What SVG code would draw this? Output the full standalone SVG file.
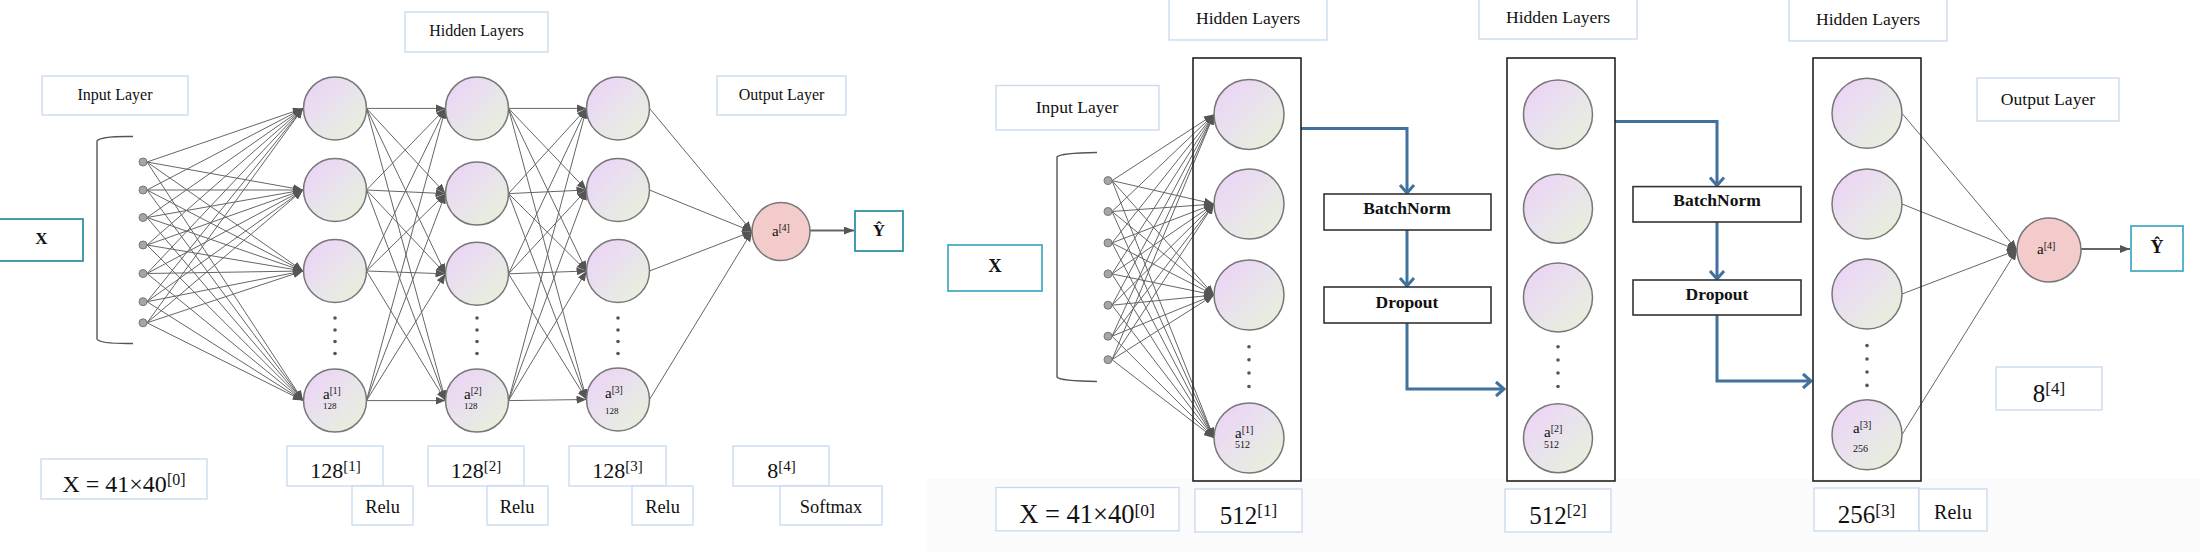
<svg xmlns="http://www.w3.org/2000/svg" width="2200" height="552" viewBox="0 0 2200 552">
<defs>
<linearGradient id="ng" x1="0" y1="0" x2="1" y2="1">
<stop offset="0" stop-color="#ecd0f8"/>
<stop offset="0.5" stop-color="#e9e3ec"/>
<stop offset="1" stop-color="#e6f3d6"/>
</linearGradient>
<marker id="ah" markerUnits="userSpaceOnUse" markerWidth="10" markerHeight="8" refX="10" refY="4" orient="auto">
<path d="M0,0 L10,4 L0,8 z" fill="#555"/>
</marker>
<marker id="bh" markerUnits="userSpaceOnUse" markerWidth="14" markerHeight="18" refX="10" refY="9" orient="auto">
<path d="M2,2 L10,9 L2,16" fill="none" stroke="#41719c" stroke-width="3"/>
</marker>
<style>
text{font-family:"Liberation Serif","Times New Roman",serif;fill:#111}
.lb{fill:#fff;stroke:#c6d9f1;stroke-width:1.3}
.tb{fill:#fff;stroke:#2f93a3;stroke-width:1.8}
.tb2{fill:#fff;stroke:#4bacc6;stroke-width:1.8}
.nd{fill:url(#ng);stroke:#777;stroke-width:1.5}
.on{fill:#f4cbcb;stroke:#777;stroke-width:1.5}
.in{fill:#a6a6a6;stroke:#777;stroke-width:1}
.e{stroke:#666;stroke-width:1;fill:none;marker-end:url(#ah)}
.ba{stroke:#41719c;stroke-width:3;fill:none;marker-end:url(#bh)}
.ct{fill:none;stroke:#222;stroke-width:1.6}
.bx{fill:#fff;stroke:#333;stroke-width:1.6}
.br{fill:none;stroke:#555;stroke-width:1.4}
.dt{fill:#555}
.t16{font-size:16px}
.t18{font-size:17.6px}
.bold{font-weight:bold}
</style>
</defs>
<rect x="0" y="0" width="2200" height="552" fill="#fff"/>
<rect x="927" y="479" width="1273" height="73" fill="#fbfbfb"/>

<g id="connectors">
<!-- left: input -> H1 -->
<line class="e" x1="147" y1="162" x2="303" y2="108.4"/><line class="e" x1="147" y1="162" x2="303" y2="190"/><line class="e" x1="147" y1="162" x2="303" y2="271"/><line class="e" x1="147" y1="162" x2="303" y2="400.6"/>
<line class="e" x1="147" y1="190" x2="303" y2="108.4"/><line class="e" x1="147" y1="190" x2="303" y2="190"/><line class="e" x1="147" y1="190" x2="303" y2="271"/><line class="e" x1="147" y1="190" x2="303" y2="400.6"/>
<line class="e" x1="147" y1="217.5" x2="303" y2="108.4"/><line class="e" x1="147" y1="217.5" x2="303" y2="190"/><line class="e" x1="147" y1="217.5" x2="303" y2="271"/><line class="e" x1="147" y1="217.5" x2="303" y2="400.6"/>
<line class="e" x1="147" y1="245" x2="303" y2="108.4"/><line class="e" x1="147" y1="245" x2="303" y2="190"/><line class="e" x1="147" y1="245" x2="303" y2="271"/><line class="e" x1="147" y1="245" x2="303" y2="400.6"/>
<line class="e" x1="147" y1="273.5" x2="303" y2="108.4"/><line class="e" x1="147" y1="273.5" x2="303" y2="190"/><line class="e" x1="147" y1="273.5" x2="303" y2="271"/><line class="e" x1="147" y1="273.5" x2="303" y2="400.6"/>
<line class="e" x1="147" y1="301.7" x2="303" y2="108.4"/><line class="e" x1="147" y1="301.7" x2="303" y2="190"/><line class="e" x1="147" y1="301.7" x2="303" y2="271"/><line class="e" x1="147" y1="301.7" x2="303" y2="400.6"/>
<line class="e" x1="147" y1="322.8" x2="303" y2="108.4"/><line class="e" x1="147" y1="322.8" x2="303" y2="190"/><line class="e" x1="147" y1="322.8" x2="303" y2="271"/><line class="e" x1="147" y1="322.8" x2="303" y2="400.6"/>
<!-- left: H1 -> H2 -->
<line class="e" x1="366.5" y1="108.4" x2="445.5" y2="108.4"/><line class="e" x1="366.5" y1="108.4" x2="445.5" y2="193.6"/><line class="e" x1="366.5" y1="108.4" x2="445.5" y2="273.8"/><line class="e" x1="366.5" y1="108.4" x2="445.5" y2="400.6"/>
<line class="e" x1="366.5" y1="190" x2="445.5" y2="108.4"/><line class="e" x1="366.5" y1="190" x2="445.5" y2="193.6"/><line class="e" x1="366.5" y1="190" x2="445.5" y2="273.8"/><line class="e" x1="366.5" y1="190" x2="445.5" y2="400.6"/>
<line class="e" x1="366.5" y1="271" x2="445.5" y2="108.4"/><line class="e" x1="366.5" y1="271" x2="445.5" y2="193.6"/><line class="e" x1="366.5" y1="271" x2="445.5" y2="273.8"/><line class="e" x1="366.5" y1="271" x2="445.5" y2="400.6"/>
<line class="e" x1="366.5" y1="400.6" x2="445.5" y2="108.4"/><line class="e" x1="366.5" y1="400.6" x2="445.5" y2="193.6"/><line class="e" x1="366.5" y1="400.6" x2="445.5" y2="273.8"/><line class="e" x1="366.5" y1="400.6" x2="445.5" y2="400.6"/>
<!-- left: H2 -> H3 -->
<line class="e" x1="508.5" y1="108.4" x2="586.5" y2="108.4"/><line class="e" x1="508.5" y1="108.4" x2="586.5" y2="190"/><line class="e" x1="508.5" y1="108.4" x2="586.5" y2="271"/><line class="e" x1="508.5" y1="108.4" x2="586.5" y2="399.5"/>
<line class="e" x1="508.5" y1="193.6" x2="586.5" y2="108.4"/><line class="e" x1="508.5" y1="193.6" x2="586.5" y2="190"/><line class="e" x1="508.5" y1="193.6" x2="586.5" y2="271"/><line class="e" x1="508.5" y1="193.6" x2="586.5" y2="399.5"/>
<line class="e" x1="508.5" y1="273.8" x2="586.5" y2="108.4"/><line class="e" x1="508.5" y1="273.8" x2="586.5" y2="190"/><line class="e" x1="508.5" y1="273.8" x2="586.5" y2="271"/><line class="e" x1="508.5" y1="273.8" x2="586.5" y2="399.5"/>
<line class="e" x1="508.5" y1="400.6" x2="586.5" y2="108.4"/><line class="e" x1="508.5" y1="400.6" x2="586.5" y2="190"/><line class="e" x1="508.5" y1="400.6" x2="586.5" y2="271"/><line class="e" x1="508.5" y1="400.6" x2="586.5" y2="399.5"/>
<!-- left: H3 -> output -->
<line class="e" x1="649.5" y1="108.4" x2="752" y2="231.5"/><line class="e" x1="649.5" y1="190" x2="752" y2="231.5"/><line class="e" x1="649.5" y1="271" x2="752" y2="231.5"/><line class="e" x1="649.5" y1="399.5" x2="752" y2="231.5"/>
<line class="e" x1="810" y1="230.5" x2="854" y2="230.5" style="stroke-width:2"/>
<!-- right: input -> L1 -->
<line class="e" x1="1112" y1="180.6" x2="1214" y2="114.4"/><line class="e" x1="1112" y1="180.6" x2="1214" y2="204"/><line class="e" x1="1112" y1="180.6" x2="1214" y2="295"/><line class="e" x1="1112" y1="180.6" x2="1214" y2="438"/>
<line class="e" x1="1112" y1="211.5" x2="1214" y2="114.4"/><line class="e" x1="1112" y1="211.5" x2="1214" y2="204"/><line class="e" x1="1112" y1="211.5" x2="1214" y2="295"/><line class="e" x1="1112" y1="211.5" x2="1214" y2="438"/>
<line class="e" x1="1112" y1="242.9" x2="1214" y2="114.4"/><line class="e" x1="1112" y1="242.9" x2="1214" y2="204"/><line class="e" x1="1112" y1="242.9" x2="1214" y2="295"/><line class="e" x1="1112" y1="242.9" x2="1214" y2="438"/>
<line class="e" x1="1112" y1="273.9" x2="1214" y2="114.4"/><line class="e" x1="1112" y1="273.9" x2="1214" y2="204"/><line class="e" x1="1112" y1="273.9" x2="1214" y2="295"/><line class="e" x1="1112" y1="273.9" x2="1214" y2="438"/>
<line class="e" x1="1112" y1="305.2" x2="1214" y2="114.4"/><line class="e" x1="1112" y1="305.2" x2="1214" y2="204"/><line class="e" x1="1112" y1="305.2" x2="1214" y2="295"/><line class="e" x1="1112" y1="305.2" x2="1214" y2="438"/>
<line class="e" x1="1112" y1="336.2" x2="1214" y2="114.4"/><line class="e" x1="1112" y1="336.2" x2="1214" y2="204"/><line class="e" x1="1112" y1="336.2" x2="1214" y2="295"/><line class="e" x1="1112" y1="336.2" x2="1214" y2="438"/>
<line class="e" x1="1112" y1="359.7" x2="1214" y2="114.4"/><line class="e" x1="1112" y1="359.7" x2="1214" y2="204"/><line class="e" x1="1112" y1="359.7" x2="1214" y2="295"/><line class="e" x1="1112" y1="359.7" x2="1214" y2="438"/>
<!-- right: L3 -> output -->
<line class="e" x1="1902" y1="113.3" x2="2017" y2="250"/><line class="e" x1="1902" y1="204" x2="2017" y2="250"/><line class="e" x1="1902" y1="294" x2="2017" y2="250"/><line class="e" x1="1902" y1="434.7" x2="2017" y2="250"/>
<line class="e" x1="2081" y1="249" x2="2130" y2="249" style="stroke-width:2"/>
<!-- blue flow arrows -->
<path class="ba" d="M1301,128.5 H1407 V193"/>
<path class="ba" d="M1407,230 V286"/>
<path class="ba" d="M1407,323 V389 H1504"/>
<path class="ba" d="M1615,121.4 H1717 V185.5"/>
<path class="ba" d="M1717,222 V279"/>
<path class="ba" d="M1717,315 V381 H1811"/>
</g>

<!-- ===== LEFT PANEL ===== -->
<g id="left-hidden-label"><rect class="lb" x="405" y="12" width="143" height="40"/><text class="t16" x="476.5" y="36" text-anchor="middle">Hidden Layers</text></g>
<g id="left-input-label"><rect class="lb" x="42" y="76" width="146" height="39"/><text class="t16" x="115" y="100" text-anchor="middle">Input Layer</text></g>
<g id="left-output-label"><rect class="lb" x="717" y="76" width="129" height="39"/><text class="t16" x="781.5" y="100" text-anchor="middle">Output Layer</text></g>
<g id="left-x"><rect class="tb" x="-2" y="219" width="85" height="42"/><text class="bold" font-size="17" x="41.5" y="244" text-anchor="middle">X</text></g>
<g id="left-yhat"><rect class="tb" x="855" y="211" width="48" height="40"/><text class="bold" font-size="17" x="879" y="236" text-anchor="middle">Ŷ</text></g>
<g id="left-input-layer">
<path class="br" d="M133,136.5 Q100,136 97,141 L97,339 Q100,344 133,343.5"/>
<circle class="in" cx="143" cy="162" r="4"/><circle class="in" cx="143" cy="190" r="4"/><circle class="in" cx="143" cy="217.5" r="4"/><circle class="in" cx="143" cy="245" r="4"/><circle class="in" cx="143" cy="273.5" r="4"/><circle class="in" cx="143" cy="301.7" r="4"/><circle class="in" cx="143" cy="322.8" r="4"/>
</g>
<g id="left-h1">
<circle class="nd" cx="335" cy="108.4" r="31.5"/><circle class="nd" cx="335" cy="190" r="31.5"/><circle class="nd" cx="335" cy="271" r="31.5"/><circle class="nd" cx="335" cy="400.6" r="31.5"/>
<circle class="dt" cx="335" cy="318" r="1.8"/><circle class="dt" cx="335" cy="330" r="1.8"/><circle class="dt" cx="335" cy="341.5" r="1.8"/><circle class="dt" cx="335" cy="353.5" r="1.8"/>
<text font-size="15" x="323" y="399">a<tspan font-size="9.5" dy="-5">[1]</tspan></text><text font-size="9" x="323" y="408.5">128</text>
</g>
<g id="left-h2">
<circle class="nd" cx="477" cy="108.4" r="31.5"/><circle class="nd" cx="477" cy="193.6" r="31.5"/><circle class="nd" cx="477" cy="273.8" r="31.5"/><circle class="nd" cx="477" cy="400.6" r="31.5"/>
<circle class="dt" cx="477" cy="318" r="1.8"/><circle class="dt" cx="477" cy="330" r="1.8"/><circle class="dt" cx="477" cy="341.5" r="1.8"/><circle class="dt" cx="477" cy="353.5" r="1.8"/>
<text font-size="15" x="464" y="398.5">a<tspan font-size="9.5" dy="-5">[2]</tspan></text><text font-size="9" x="464" y="409">128</text>
</g>
<g id="left-h3">
<circle class="nd" cx="618" cy="108.4" r="31.5"/><circle class="nd" cx="618" cy="190" r="31.5"/><circle class="nd" cx="618" cy="271" r="31.5"/><circle class="nd" cx="618" cy="399.5" r="31.5"/>
<circle class="dt" cx="618" cy="318" r="1.8"/><circle class="dt" cx="618" cy="330" r="1.8"/><circle class="dt" cx="618" cy="341.5" r="1.8"/><circle class="dt" cx="618" cy="353.5" r="1.8"/>
<text font-size="15" x="605" y="397.5">a<tspan font-size="9.5" dy="-5">[3]</tspan></text><text font-size="9" x="605" y="413.5">128</text>
</g>
<g id="left-output">
<circle class="on" cx="781" cy="231.5" r="29"/>
<text font-size="15" x="772" y="236">a<tspan font-size="9.5" dy="-5">[4]</tspan></text>
</g>
<g id="left-x-size"><rect class="lb" x="41" y="459" width="166" height="40"/><text font-size="24" x="124" y="492" text-anchor="middle">X = 41×40<tspan font-size="16" dy="-7">[0]</tspan></text></g>
<g id="left-s1"><rect class="lb" x="287" y="446" width="96" height="40"/><text font-size="22" x="335.5" y="478" text-anchor="middle">128<tspan font-size="15" dy="-7">[1]</tspan></text></g>
<g id="left-r1"><rect class="lb" x="352" y="486" width="61" height="39"/><text font-size="18.4" x="382.5" y="513" text-anchor="middle">Relu</text></g>
<g id="left-s2"><rect class="lb" x="428" y="446" width="96" height="40"/><text font-size="22" x="476" y="478" text-anchor="middle">128<tspan font-size="15" dy="-7">[2]</tspan></text></g>
<g id="left-r2"><rect class="lb" x="487" y="486" width="61" height="39"/><text font-size="18.4" x="517" y="513" text-anchor="middle">Relu</text></g>
<g id="left-s3"><rect class="lb" x="569" y="446" width="97" height="40"/><text font-size="22" x="617.5" y="478" text-anchor="middle">128<tspan font-size="15" dy="-7">[3]</tspan></text></g>
<g id="left-r3"><rect class="lb" x="632" y="486" width="61" height="39"/><text font-size="18.4" x="662.5" y="513" text-anchor="middle">Relu</text></g>
<g id="left-s4"><rect class="lb" x="733" y="446" width="96" height="40"/><text font-size="22" x="781.5" y="478" text-anchor="middle">8<tspan font-size="15" dy="-7">[4]</tspan></text></g>
<g id="left-softmax"><rect class="lb" x="780" y="486" width="102" height="39"/><text font-size="18.4" x="831" y="513" text-anchor="middle">Softmax</text></g>

<!-- ===== RIGHT PANEL ===== -->
<g id="right-hidden-label-1"><rect class="lb" x="1169" y="-2" width="158" height="42"/><text class="t18" x="1248" y="24" text-anchor="middle">Hidden Layers</text></g>
<g id="right-hidden-label-2"><rect class="lb" x="1479" y="-2" width="158" height="41"/><text class="t18" x="1558" y="23" text-anchor="middle">Hidden Layers</text></g>
<g id="right-hidden-label-3"><rect class="lb" x="1789" y="-2" width="158" height="43"/><text class="t18" x="1868" y="24.5" text-anchor="middle">Hidden Layers</text></g>
<g id="right-input-label"><rect class="lb" x="996" y="85.5" width="163" height="44.5"/><text class="t18" x="1077" y="113" text-anchor="middle">Input Layer</text></g>
<g id="right-output-label"><rect class="lb" x="1977" y="78" width="142" height="43"/><text class="t18" x="2048" y="104.5" text-anchor="middle">Output Layer</text></g>
<g id="right-x"><rect class="tb2" x="948" y="245" width="94" height="46"/><text class="bold" font-size="18.5" x="995" y="272" text-anchor="middle">X</text></g>
<g id="right-yhat"><rect class="tb2" x="2131" y="226" width="52" height="45"/><text class="bold" font-size="18" x="2157" y="253" text-anchor="middle">Ŷ</text></g>
<g id="right-input-layer">
<path class="br" d="M1097,152.5 Q1060,153 1057,157 L1057,377 Q1060,381 1097,381.5"/>
<circle class="in" cx="1108" cy="180.6" r="4"/><circle class="in" cx="1108" cy="211.5" r="4"/><circle class="in" cx="1108" cy="242.9" r="4"/><circle class="in" cx="1108" cy="273.9" r="4"/><circle class="in" cx="1108" cy="305.2" r="4"/><circle class="in" cx="1108" cy="336.2" r="4"/><circle class="in" cx="1108" cy="359.7" r="4"/>
</g>
<g id="right-l1">
<rect class="ct" x="1193" y="58" width="108" height="423"/>
<circle class="nd" cx="1249" cy="114.4" r="35"/><circle class="nd" cx="1249" cy="204" r="35"/><circle class="nd" cx="1249" cy="295" r="35"/><circle class="nd" cx="1249" cy="438" r="35"/>
<circle class="dt" cx="1249" cy="346.7" r="1.8"/><circle class="dt" cx="1249" cy="359.7" r="1.8"/><circle class="dt" cx="1249" cy="373" r="1.8"/><circle class="dt" cx="1249" cy="386.5" r="1.8"/>
<text font-size="15" x="1235" y="438">a<tspan font-size="10" dy="-5">[1]</tspan></text><text font-size="10" x="1235" y="448">512</text>
</g>
<g id="right-batchnorm-1"><rect class="bx" x="1324" y="194" width="167" height="36"/><text class="bold" font-size="17.5" x="1407" y="214" text-anchor="middle">BatchNorm</text></g>
<g id="right-dropout-1"><rect class="bx" x="1324" y="287" width="167" height="36"/><text class="bold" font-size="17.5" x="1407" y="308" text-anchor="middle">Dropout</text></g>
<g id="right-l2">
<rect class="ct" x="1507" y="58" width="108" height="423"/>
<circle class="nd" cx="1558" cy="114.4" r="34.5"/><circle class="nd" cx="1558" cy="208.7" r="34.5"/><circle class="nd" cx="1558" cy="297.4" r="34.5"/><circle class="nd" cx="1558" cy="438.2" r="34.5"/>
<circle class="dt" cx="1558" cy="346.7" r="1.8"/><circle class="dt" cx="1558" cy="360" r="1.8"/><circle class="dt" cx="1558" cy="373" r="1.8"/><circle class="dt" cx="1558" cy="386.5" r="1.8"/>
<text font-size="15" x="1544" y="436.5">a<tspan font-size="10" dy="-5">[2]</tspan></text><text font-size="10" x="1544" y="447.7">512</text>
</g>
<g id="right-batchnorm-2"><rect class="bx" x="1633" y="186.6" width="168" height="35.4"/><text class="bold" font-size="17.5" x="1717" y="206" text-anchor="middle">BatchNorm</text></g>
<g id="right-dropout-2"><rect class="bx" x="1633" y="280" width="168" height="35"/><text class="bold" font-size="17.5" x="1717" y="300" text-anchor="middle">Dropout</text></g>
<g id="right-l3">
<rect class="ct" x="1813" y="58" width="108" height="423"/>
<circle class="nd" cx="1867" cy="113.3" r="35"/><circle class="nd" cx="1867" cy="204" r="35"/><circle class="nd" cx="1867" cy="294" r="35"/><circle class="nd" cx="1867" cy="434.7" r="35"/>
<circle class="dt" cx="1867" cy="345.6" r="1.8"/><circle class="dt" cx="1867" cy="359" r="1.8"/><circle class="dt" cx="1867" cy="372" r="1.8"/><circle class="dt" cx="1867" cy="385.4" r="1.8"/>
<text font-size="15" x="1853" y="433">a<tspan font-size="10" dy="-5">[3]</tspan></text><text font-size="10" x="1853" y="451.6">256</text>
</g>
<g id="right-output">
<circle class="on" cx="2049" cy="250" r="32"/>
<text font-size="15" x="2037" y="254">a<tspan font-size="10" dy="-5">[4]</tspan></text>
</g>
<g id="right-s4"><rect class="lb" x="1996" y="367" width="106" height="43"/><text font-size="25" x="2049" y="401.5" text-anchor="middle">8<tspan font-size="17" dy="-7.5">[4]</tspan></text></g>
<g id="right-x-size"><rect class="lb" x="996" y="487.5" width="183" height="43.3"/><text font-size="26.5" x="1087" y="523" text-anchor="middle">X = 41×40<tspan font-size="17.5" dy="-7.5">[0]</tspan></text></g>
<g id="right-s1"><rect class="lb" x="1195" y="489" width="107" height="43"/><text font-size="25" x="1248.5" y="523.5" text-anchor="middle">512<tspan font-size="17" dy="-7.5">[1]</tspan></text></g>
<g id="right-s2"><rect class="lb" x="1505" y="489" width="106" height="43"/><text font-size="25" x="1558" y="523.5" text-anchor="middle">512<tspan font-size="17" dy="-7.5">[2]</tspan></text></g>
<g id="right-s3"><rect class="lb" x="1814" y="488" width="105" height="43"/><text font-size="25" x="1866.5" y="523" text-anchor="middle">256<tspan font-size="17" dy="-7.5">[3]</tspan></text></g>
<g id="right-relu"><rect class="lb" x="1919" y="489" width="68" height="42"/><text font-size="20" x="1953" y="519" text-anchor="middle">Relu</text></g>
</svg>
